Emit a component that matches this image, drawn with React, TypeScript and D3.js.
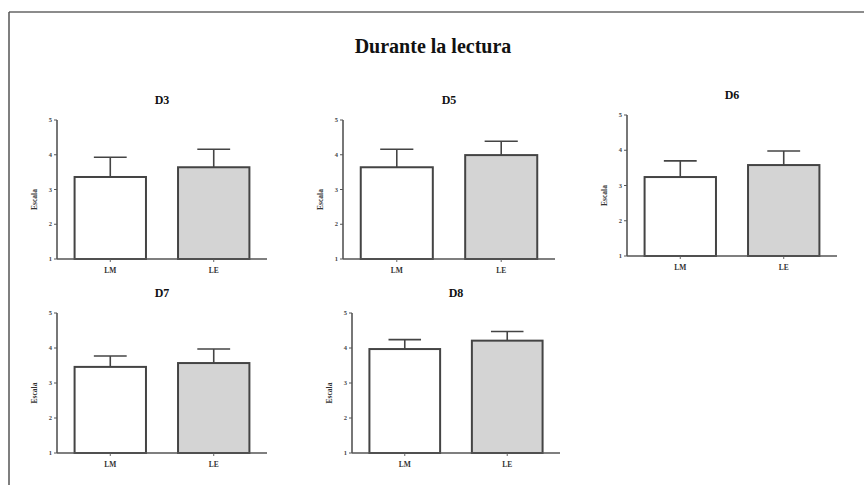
import React from "react";
import * as d3 from "d3";

const chartTitle = "Durante la lectura";
const categories = ["LM", "LE"];
const panelNames = ["D3", "D5", "D6", "D7", "D8"];
const meansLM = [3.36, 3.64, 3.24, 3.46, 3.97];
const meansLE = [3.64, 3.99, 3.58, 3.57, 4.21];
const errLM = [0.57, 0.52, 0.46, 0.31, 0.27];
const errLE = [0.52, 0.4, 0.4, 0.4, 0.26];
const yTicks = [1, 2, 3, 4, 5];
const yLabel = "Escala";

// layout of each panel (pixel frame)
const layouts = [
  { x0: 57, x1: 267, top: 120, bottom: 259 },
  { x0: 343, x1: 555, top: 120, bottom: 259 },
  { x0: 627, x1: 837, top: 115, bottom: 256 },
  { x0: 57, x1: 267, top: 313, bottom: 453 },
  { x0: 352, x1: 560, top: 313, bottom: 453 },
];

const fills = ["#ffffff", "#d4d4d4"];
const FONT = "'Liberation Serif', 'DejaVu Serif', serif";

function Panel({ idx }: { idx: number }) {
  const L = layouts[idx];
  const x = d3
    .scaleBand<string>()
    .domain(categories)
    .range([L.x0, L.x1])
    .paddingInner(0.31)
    .paddingOuter(0.17);
  const y = d3.scaleLinear().domain([1, 5]).range([L.bottom, L.top]);
  const means = [meansLM[idx], meansLE[idx]];
  const errs = [errLM[idx], errLE[idx]];
  const cx = (L.x0 + L.x1) / 2;
  return (
    <g>
      <text
        x={cx}
        y={L.top - 16}
        textAnchor="middle"
        fontFamily={FONT}
        fontWeight="bold"
        fontSize={12}
        fill="#111"
      >
        {panelNames[idx]}
      </text>
      {categories.map((c, i) => {
        const bx = x(c)!;
        const bw = x.bandwidth();
        const top = y(means[i]);
        const et = y(means[i] + errs[i]);
        const mid = bx + bw / 2;
        const capW = bw * 0.46;
        return (
          <g key={c}>
            <line x1={mid} x2={mid} y1={top} y2={et} stroke="#444" strokeWidth={1.6} />
            <line x1={mid - capW / 2} x2={mid + capW / 2} y1={et} y2={et} stroke="#444" strokeWidth={1.6} />
            <rect
              x={bx}
              y={top}
              width={bw}
              height={L.bottom - top}
              fill={fills[i]}
              stroke="#444"
              strokeWidth={2}
            />
            <line x1={mid} x2={mid} y1={L.bottom} y2={L.bottom + 3} stroke="#666" strokeWidth={1} />
            <text
              x={mid}
              y={L.bottom + 14}
              textAnchor="middle"
              fontFamily={FONT}
              fontWeight="bold"
              fontSize={7.5}
              fill="#333"
            >
              {c}
            </text>
          </g>
        );
      })}
      <line x1={L.x0} x2={L.x0} y1={L.top} y2={L.bottom} stroke="#555" strokeWidth={1.6} />
      <line x1={L.x0} x2={L.x1} y1={L.bottom} y2={L.bottom} stroke="#555" strokeWidth={1.6} />
      {yTicks.map((t) => (
        <g key={t}>
          <line x1={L.x0 - 3} x2={L.x0} y1={y(t)} y2={y(t)} stroke="#555" strokeWidth={1} />
          <text
            x={L.x0 - 5}
            y={y(t)}
            dy="0.32em"
            textAnchor="end"
            fontFamily={FONT}
            fontWeight="bold"
            fontSize={6.5}
            fill="#444"
          >
            {t}
          </text>
        </g>
      ))}
      <text
        transform={`translate(${L.x0 - 20},${(L.top + L.bottom) / 2 + 10}) rotate(-90)`}
        textAnchor="middle"
        fontFamily={FONT}
        fontWeight="bold"
        fontSize={7.5}
        fill="#333"
      >
        {yLabel}
      </text>
    </g>
  );
}

export default function App() {
  return (
    <svg
      width={864}
      height={485}
      style={{ position: "absolute", left: 0, top: 0, background: "#fff" }}
    >
      <rect x={0} y={0} width={864} height={485} fill="#fff" />
      <line x1={9} x2={864} y1={12} y2={12} stroke="#666" strokeWidth={1.5} />
      <line x1={9} x2={9} y1={12} y2={485} stroke="#555" strokeWidth={1.5} />
      <text
        x={433}
        y={53}
        textAnchor="middle"
        fontFamily={FONT}
        fontWeight="bold"
        fontSize={20}
        fill="#111"
      >
        {chartTitle}
      </text>
      {panelNames.map((_, i) => (
        <Panel key={i} idx={i} />
      ))}
    </svg>
  );
}
